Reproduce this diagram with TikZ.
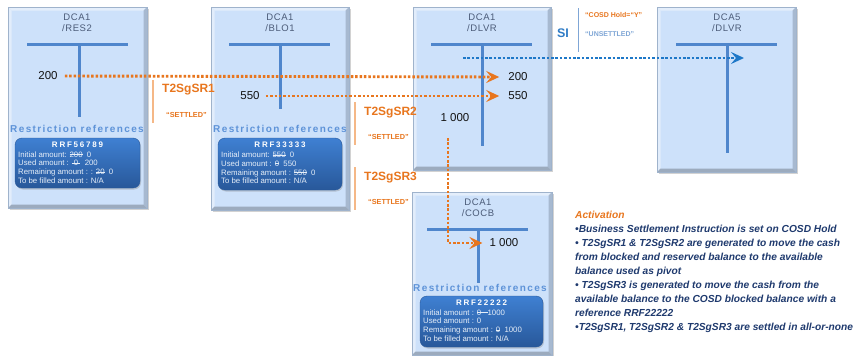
\documentclass[tikz,border=0pt]{standalone}
\usepackage{fontspec}
\setmainfont{Liberation Sans}
\newfontfamily\spacedfont[LetterSpace=14]{Liberation Sans}
\newfontfamily\headfont[LetterSpace=22]{Liberation Sans}
\newfontfamily\titlefont[LetterSpace=6]{Liberation Sans}
\newcommand{\strk}[1]{\setbox0\hbox{#1}\rlap{\rule[0.32em]{\wd0}{0.55pt}}\box0\relax}
\usetikzlibrary{arrows.meta,shadows}
\definecolor{boxfill}{HTML}{CDE1FA}
\definecolor{boxedge}{HTML}{9FB3CC}
\definecolor{bevL}{HTML}{E4EEFB}
\definecolor{bevD}{HTML}{A7B9D0}
\definecolor{tline}{HTML}{4F86CC}
\definecolor{orangeC}{HTML}{E8761E}
\definecolor{sepOr}{HTML}{F5B887}
\definecolor{titleC}{HTML}{4B5B78}
\definecolor{refC}{HTML}{5E93D8}
\definecolor{darkTop}{HTML}{3F80D2}
\definecolor{darkBot}{HTML}{28589A}
\definecolor{rrfText}{HTML}{E6EEF8}
\definecolor{siC}{HTML}{2F7CC6}
\definecolor{sepBlue}{HTML}{7FA6D6}
\definecolor{blueDot}{HTML}{1E78C8}
\definecolor{navy}{HTML}{1F3A6E}
\definecolor{numC}{HTML}{141414}
\tikzset{
 acct/.style={draw=boxedge, line width=0.6pt, fill=boxfill, inner sep=0pt,
   drop shadow={opacity=0.35,shadow xshift=1.5pt,shadow yshift=-2pt},
   path picture={
     \fill[bevL] (path picture bounding box.north west) -- (path picture bounding box.north east)
        -- ([xshift=-3.5pt,yshift=-3.5pt]path picture bounding box.north east)
        -- ([xshift=3.5pt,yshift=-3.5pt]path picture bounding box.north west) -- cycle;
     \fill[bevL!92!boxfill] (path picture bounding box.north west) -- ([xshift=3.5pt,yshift=-3.5pt]path picture bounding box.north west)
        -- ([xshift=3.5pt,yshift=3.5pt]path picture bounding box.south west) -- (path picture bounding box.south west) -- cycle;
     \fill[bevD] (path picture bounding box.north east) -- ([xshift=-3.5pt,yshift=-3.5pt]path picture bounding box.north east)
        -- ([xshift=-3.5pt,yshift=3.5pt]path picture bounding box.south east) -- (path picture bounding box.south east) -- cycle;
     \fill[bevD!90!black!95] (path picture bounding box.south west) -- ([xshift=3.5pt,yshift=3.5pt]path picture bounding box.south west)
        -- ([xshift=-3.5pt,yshift=3.5pt]path picture bounding box.south east) -- (path picture bounding box.south east) -- cycle;
   }},
 ttl/.style={font=\titlefont\fontsize{9.5}{11}\selectfont, text=titleC, align=center, inner sep=0pt},
 tbar/.style={draw=tline, line width=3pt},
 val/.style={font=\fontsize{11.5}{12}\selectfont, text=numC, inner sep=1pt},
 rref/.style={font=\spacedfont\bfseries\fontsize{10}{12}\selectfont, text=refC, inner sep=0pt},
 rrfbox/.style={rounded corners=7pt, top color=darkTop, bottom color=darkBot, draw=darkBot, line width=0.4pt, inner sep=0pt,
   drop shadow={opacity=0.35,shadow xshift=1pt,shadow yshift=-1.5pt}},
 rrfhead/.style={font=\headfont\bfseries\fontsize{8}{9}\selectfont, text=white, inner sep=0pt},
 rrfbody/.style={font=\fontsize{7.8}{8.7}\selectfont, text=rrfText, align=left, inner sep=0pt, anchor=west},
 odots/.style={draw=orangeC, line width=2.9pt, dash pattern=on 2.5pt off 1.9pt},
 bdots/.style={draw=blueDot, line width=2.9pt, dash pattern=on 2.5pt off 1.9pt},
 ptip/.style={-{Stealth[length=13pt,width=12pt,inset=5pt]}},
 sepline/.style={draw=sepOr, line width=1.1pt},
 srlab/.style={font=\bfseries\fontsize{12}{14}\selectfont, text=orangeC, anchor=west, inner sep=0pt},
 stl/.style={font=\bfseries\fontsize{7.3}{8}\selectfont, text=orangeC, anchor=west, inner sep=0pt},
}
\begin{document}
\begin{tikzpicture}[x=1pt,y=-1pt]
\useasboundingbox (0,0) rectangle (855,356);
\fill[white] (0,0) rectangle (855,356);

% account boxes
\node[acct, minimum width=139pt, minimum height=201pt] (res2) at (77.5,107.5) {};
\node[acct, minimum width=138pt, minimum height=203pt] (blo1) at (280,108.5) {};
\node[acct, minimum width=138pt, minimum height=163pt] (dlvr) at (482,88.5) {};
\node[acct, minimum width=139pt, minimum height=165pt] (dlvr5) at (726.5,89.5) {};
\node[acct, minimum width=140pt, minimum height=163pt] (cocb) at (482,273.5) {};

% titles
\node[ttl] (tres2) at (77,23) {DCA1\\/RES2};
\node[ttl] (tblo1) at (280,23) {DCA1\\/BLO1};
\node[ttl] (tdlvr) at (482,23) {DCA1\\/DLVR};
\node[ttl] (tdlvr5) at (727,23) {DCA5\\/DLVR};
\node[ttl] (tcocb) at (478,207.5) {DCA1\\/COCB};

% T accounts
\draw[tbar] (27,44) -- (128,44); \draw[tbar] (79,44) -- (79,117);
\draw[tbar] (229,44) -- (330,44); \draw[tbar] (280,44) -- (280,109);
\draw[tbar] (431,44) -- (532,44); \draw[tbar] (482,44) -- (482,146);
\draw[tbar] (676,44) -- (777,44); \draw[tbar] (727,44) -- (727,153);
\draw[tbar] (427,229) -- (528,229); \draw[tbar] (478,229) -- (478,283);

% values
\node[val] (a200) at (48,76) {200};
\node[val] (b550) at (250,96) {550};
\node[val] (c200) at (518,77) {200};
\node[val] (c550) at (518,96) {550};
\node[val] (c1000) at (455,118) {1 000};
\node[val] (d1000) at (504,243) {1 000};

% restriction references
\node[rref] (r1) at (77,129) {Restriction references};
\node[rref] (r2) at (280,129) {Restriction references};
\node[rref] (r4) at (480,288) {Restriction references};

\node[rrfbox, minimum width=125pt, minimum height=50pt] (k1) at (77.5,163) {};
\node[rrfhead] (h1) at (77.5,145) {RRF56789};
\node[rrfbody] (b1) at (18,167.5) {Initial amount: \strk{200}\ \ 0\\Used amount : \strk{\ 0\ }\ \ 200\\Remaining amount : : \strk{20}\ \ 0\\To be filled amount : N/A};

\node[rrfbox, minimum width=124pt, minimum height=52pt] (k2) at (280,164) {};
\node[rrfhead] (h2) at (280,145) {RRF33333};
\node[rrfbody] (b2) at (221,168) {Initial amount: \strk{550}\ \ 0\\Used amount : \strk{0}\ \ 550\\Remaining amount : \strk{550}\ \ 0\\To be filled amount : N/A};

\node[rrfbox, minimum width=123pt, minimum height=51pt] (k4) at (481.5,321.5) {};
\node[rrfhead] (h4) at (481.5,303) {RRF22222};
\node[rrfbody] (b4) at (423,325.5) {Initial amount : \strk{0\ \ \ }1000\\Used amount : 0\\Remaining amount : \strk{0}\ \ 1000\\To be filled amount : N/A};

% connectors
\draw[odots, ptip] ([xshift=6pt]a200.east) -- ([xshift=-8pt]c200.west);
\draw[odots, ptip] ([xshift=5pt]b550.east) -- ([xshift=-8pt]c550.west);
\coordinate (dstart) at (448,138);
\draw[odots, ptip] (dstart) |- ([xshift=-6pt]d1000.west);
\coordinate (siStart) at (463,58);
\coordinate (siEnd) at (744,58);
\draw[bdots, ptip] (siStart) -- (siEnd);

% settlement restriction labels
\draw[sepline] (153,80) -- (153,123);
\node[srlab] (sr1) at (162,90) {T2SgSR1};
\node[stl] (st1) at (166,115) {“SETTLED”};
\draw[sepline] (355,102) -- (355,145);
\node[srlab] (sr2) at (364,113) {T2SgSR2};
\node[stl] (st2) at (368,137) {“SETTLED”};
\draw[sepline] (355,167) -- (355,210);
\node[srlab] (sr3) at (364,178) {T2SgSR3};
\node[stl] (st3) at (368,202) {“SETTLED”};

% SI label
\node[font=\bfseries\fontsize{12.5}{14}\selectfont, text=siC, inner sep=0pt] (si) at (563,33) {SI};
\draw[draw=sepBlue, line width=1pt] (578,8) -- (578,52);
\node[stl, font=\bfseries\fontsize{7}{8}\selectfont] (hold) at (585,15) {“COSD Hold=“Y”};
\node[stl, font=\bfseries\fontsize{7}{8}\selectfont, text=sepBlue] (unst) at (585,34) {“UNSETTLED”};

% activation text
\node[anchor=north west, inner sep=0pt, align=left, text=navy,
  font=\bfseries\itshape\fontsize{10.2}{14}\selectfont] (act) at (575,211)
  {{\color{orangeC}Activation}\\
   •Business Settlement Instruction is set on COSD Hold\\
   • T2SgSR1 \& T2SgSR2 are generated to move the cash\\
   from blocked and reserved balance to the available\\
   balance used as pivot\\
   • T2SgSR3 is generated to move the cash from the\\
   available balance to the COSD blocked balance with a\\
   reference RRF22222\\
   •T2SgSR1, T2SgSR2 \& T2SgSR3 are settled in all-or-none};
\end{tikzpicture}
\end{document}
